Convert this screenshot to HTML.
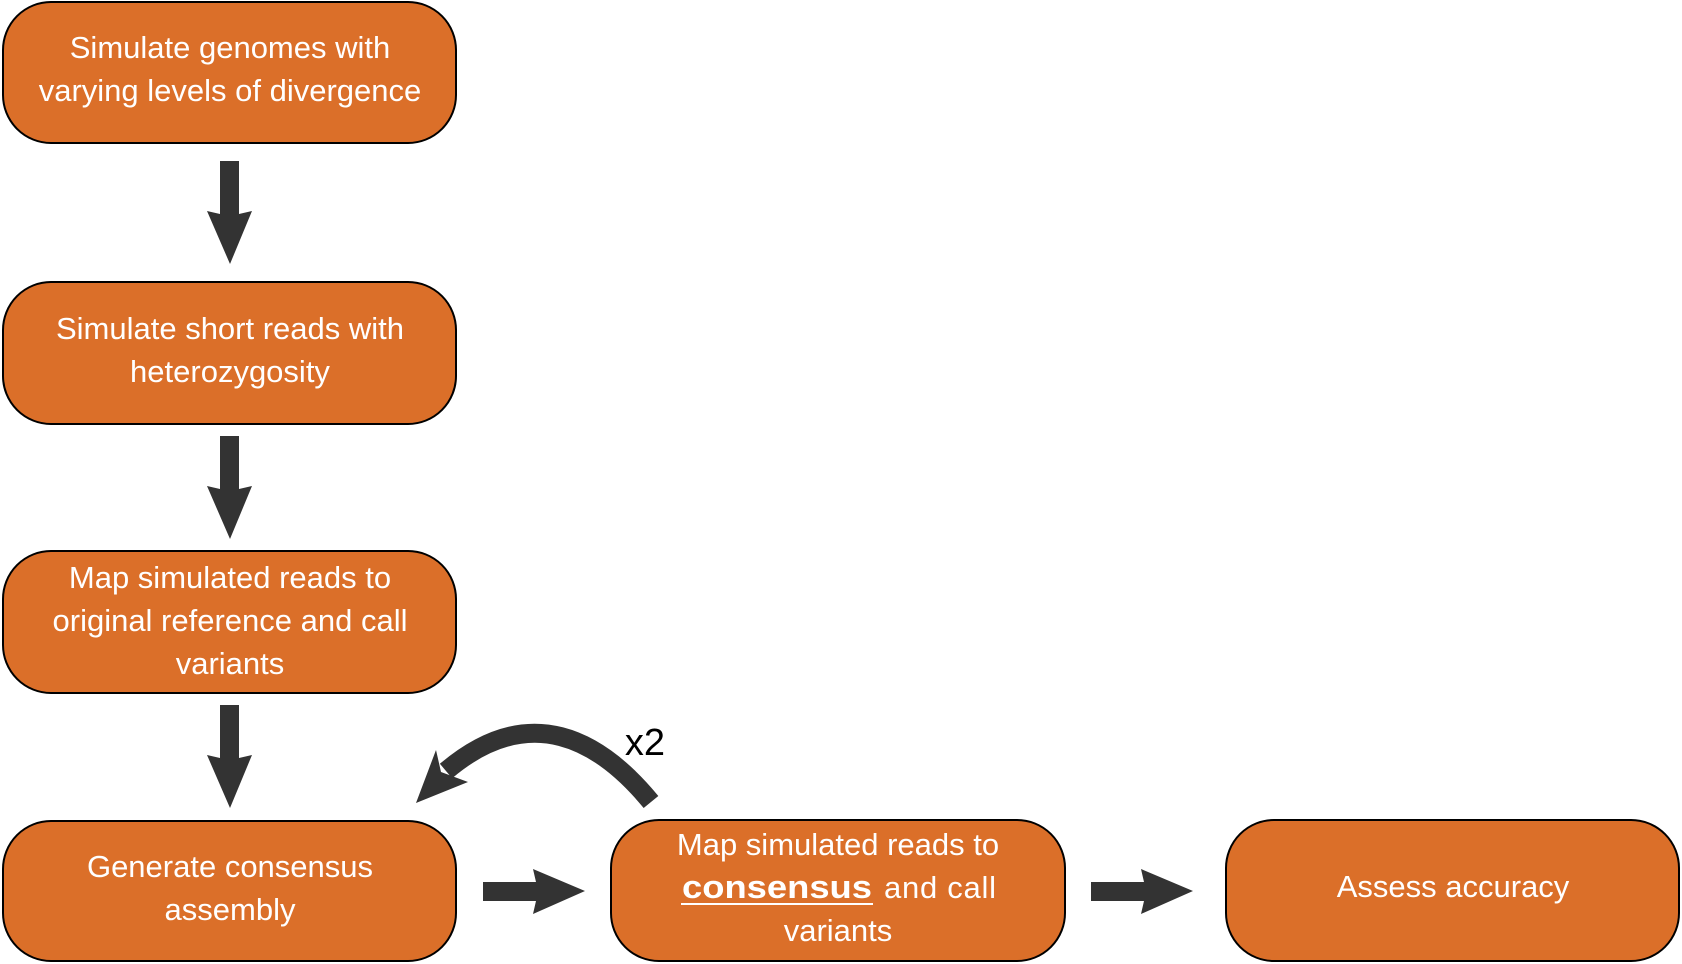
<!DOCTYPE html>
<html><head><meta charset="utf-8"><style>
html,body{margin:0;padding:0;background:#fff;}
svg{display:block}
text{font-family:"Liberation Sans",sans-serif;fill:#fff;font-size:31px;text-anchor:middle}
</style></head><body>
<svg width="1682" height="964" viewBox="0 0 1682 964" xmlns="http://www.w3.org/2000/svg">
<g fill="#DB6F29" stroke="#000" stroke-width="2">
<rect x="3" y="2" width="453" height="141" rx="48"/>
<rect x="3" y="282" width="453" height="142" rx="48"/>
<rect x="3" y="551" width="453" height="142" rx="48"/>
<rect x="3" y="821" width="453" height="140" rx="48"/>
<rect x="611" y="820" width="454" height="141" rx="48"/>
<rect x="1226" y="820" width="453" height="141" rx="48"/>
</g>
<text x="230" y="58">Simulate genomes with</text>
<text x="230" y="101">varying levels of divergence</text>
<text x="230" y="339">Simulate short reads with</text>
<text x="230" y="382">heterozygosity</text>
<text x="230" y="588">Map simulated reads to</text>
<text x="230" y="631">original reference and call</text>
<text x="230" y="674">variants</text>
<text x="230" y="877">Generate consensus</text>
<text x="230" y="920">assembly</text>
<text x="838" y="855">Map simulated reads to</text>
<text x="682" y="898" font-weight="bold" style="font-size:32px;text-anchor:start" textLength="190" lengthAdjust="spacingAndGlyphs">consensus</text>
<line x1="681" y1="904" x2="873" y2="904" stroke="#fff" stroke-width="2"/>
<text x="884" y="898" style="text-anchor:start" textLength="112">and call</text>
<text x="838" y="941">variants</text>
<text x="1453" y="897">Assess accuracy</text>
<g fill="#333">
<polygon points="220,161 239,161 239,214 252,211 230,264 207,211 220,214"/>
<polygon points="220,436 239,436 239,489 252,486 230,539 207,486 220,489"/>
<polygon points="220,705 239,705 239,758 252,755 230,808 207,755 220,758"/>
<polygon points="483,882 536,882 533,869 585,891 533,914 536,901 483,901"/>
<polygon points="1091,882 1144,882 1141,869 1193,891 1141,914 1144,901 1091,901"/>
<polygon points="416,803 436,750 441,772 468,782"/>
</g>
<path d="M651,802 C600,740 530,700 446,771" fill="none" stroke="#333" stroke-width="19"/>
<text x="645" y="755" style="fill:#000;font-size:38px">x2</text>
</svg>
</body></html>
